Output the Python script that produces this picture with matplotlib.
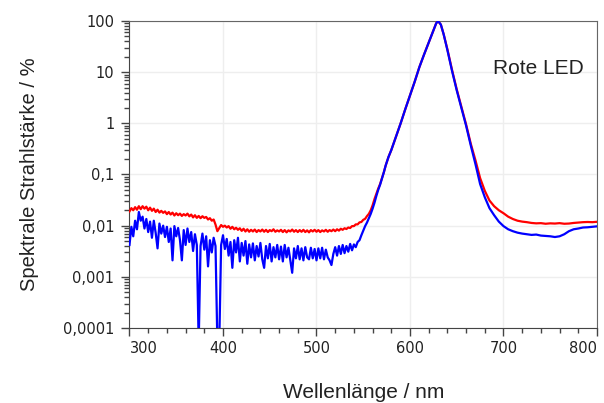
import matplotlib

matplotlib.use("Agg")
import matplotlib.pyplot as plt
import numpy as np
from matplotlib.ticker import FixedLocator, FuncFormatter, LogLocator, MultipleLocator

# noisy part of both spectra, sampled every 2 nm from 300 to 560 nm
wl_noise = np.arange(300, 562, 2)

red_noise = [
    0.019, 0.022, 0.020, 0.023, 0.0205, 0.024, 0.021, 0.024, 0.0215, 0.0235,
    0.020, 0.0225, 0.0195, 0.0215, 0.0185, 0.0205, 0.018, 0.0195, 0.0178, 0.019,
    0.0168, 0.0185, 0.0165, 0.018, 0.0158, 0.0175, 0.016, 0.0172, 0.0155, 0.0168,
    0.0158, 0.0172, 0.0152, 0.0165, 0.0145, 0.016, 0.0142, 0.0155, 0.0140, 0.0153,
    0.0142, 0.0148, 0.0132, 0.0140, 0.0125, 0.0132, 0.0105, 0.0078, 0.0090, 0.0103,
    0.0095, 0.0100, 0.0092, 0.0098, 0.0087, 0.0095, 0.0085, 0.0091, 0.0083, 0.0089,
    0.0079, 0.0087, 0.0077, 0.0085, 0.0076, 0.0083, 0.0077, 0.0084, 0.0075, 0.0082,
    0.0077, 0.0084, 0.0076, 0.0083, 0.0075, 0.0082, 0.0078, 0.0085, 0.0076, 0.0081,
    0.0077, 0.0083, 0.0075, 0.0082, 0.0074, 0.0081, 0.0077, 0.0084, 0.0076, 0.0082,
    0.0075, 0.0082, 0.0076, 0.0083, 0.0075, 0.0081, 0.0074, 0.0082, 0.0077, 0.0083,
    0.0076, 0.0082, 0.0075, 0.0081, 0.0077, 0.0083, 0.0076, 0.0082, 0.0078, 0.0084,
    0.0078, 0.0085, 0.0080, 0.0087, 0.0083, 0.0089, 0.0086, 0.0092, 0.0090, 0.0098,
    0.0098, 0.0106, 0.0106, 0.0116, 0.0118, 0.0130, 0.0136, 0.0154, 0.0170, 0.0200,
    0.0250,
]

blue_noise = [
    0.0042, 0.0095, 0.0062, 0.0125, 0.0085, 0.0185, 0.0125, 0.0150, 0.0088, 0.0135,
    0.0075, 0.0120, 0.0058, 0.0125, 0.0072, 0.0036, 0.0110, 0.0070, 0.0100, 0.0060,
    0.0095, 0.0048, 0.0088, 0.0021, 0.0098, 0.0062, 0.0090, 0.0052, 0.0021, 0.0082,
    0.0042, 0.0088, 0.0048, 0.0075, 0.0032, 0.0068, 0.0042, 0.00005, 0.0040, 0.0070,
    0.0034, 0.0062, 0.0016, 0.0052, 0.0030, 0.0058, 0.0040, 0.00005, 0.00005, 0.0042,
    0.0065, 0.0035, 0.0055, 0.0026, 0.0048, 0.0015, 0.0052, 0.0030, 0.0058, 0.0020,
    0.0046, 0.0026, 0.0050, 0.0018, 0.0043, 0.0024, 0.0045, 0.0021, 0.0040, 0.0025,
    0.0046, 0.0022, 0.0015, 0.0040, 0.0023, 0.0044, 0.0020, 0.0038, 0.0024, 0.0042,
    0.0022, 0.0039, 0.0020, 0.0042, 0.0024, 0.0037, 0.0021, 0.0012, 0.0036, 0.0023,
    0.0040, 0.0022, 0.0036, 0.0021, 0.0038, 0.0024, 0.0022, 0.0037, 0.0023, 0.0035,
    0.0021, 0.0036, 0.0023, 0.0037, 0.0022, 0.0034, 0.0024, 0.0021, 0.0017, 0.0028,
    0.0038, 0.0026, 0.0040, 0.0028, 0.0042, 0.0029, 0.0040, 0.0031, 0.0044, 0.0033,
    0.0043, 0.0038, 0.0048, 0.0052, 0.0065, 0.0080, 0.0098, 0.0115, 0.0140, 0.0170,
    0.0215,
]

# emission peak and long-wavelength tail
wl_peak = [562, 564, 566, 568, 570, 572, 574, 577, 580, 585, 590, 595, 600, 605,
           610, 615, 620, 625, 628, 630, 633, 636, 640, 645, 650, 655, 660, 665,
           670, 675, 680, 685, 690, 695, 700, 705, 710, 715, 720, 725, 730, 735,
           740, 745, 750, 755, 760, 765, 770, 775, 780, 785, 790, 795, 800]

red_peak = [0.033, 0.042, 0.053, 0.065, 0.085, 0.11, 0.15, 0.22, 0.3, 0.55,
            1.0, 1.9, 3.5, 6.5, 12.5, 22, 38, 65, 90, 100, 85, 55, 28, 11,
            4.6, 2.1, 0.95, 0.4, 0.19, 0.085, 0.048, 0.031, 0.024, 0.020,
            0.0175, 0.015, 0.0135, 0.0125, 0.012, 0.0117, 0.0113, 0.0111,
            0.0112, 0.0109, 0.0111, 0.0110, 0.0112, 0.0109, 0.0110, 0.0113,
            0.0115, 0.0117, 0.0118, 0.0117, 0.0119]

blue_peak = [0.028, 0.038, 0.05, 0.063, 0.083, 0.11, 0.15, 0.22, 0.3, 0.55,
             1.0, 1.9, 3.5, 6.5, 12.5, 22, 38, 65, 90, 100, 85, 55, 27, 10.5,
             4.4, 2.0, 0.9, 0.37, 0.16, 0.065, 0.036, 0.022, 0.016, 0.012,
             0.0098, 0.0085, 0.0078, 0.0073, 0.0070, 0.0068, 0.0066, 0.0067,
             0.0064, 0.0063, 0.0062, 0.0060, 0.0062, 0.0068, 0.0078, 0.0085,
             0.0088, 0.0092, 0.0093, 0.0095, 0.0097]

wl = np.concatenate([wl_noise, wl_peak])
red = np.concatenate([red_noise, red_peak])
blue = np.concatenate([blue_noise, blue_peak])

y_ticks = [0.0001, 0.001, 0.01, 0.1, 1, 10, 100]
y_tick_labels = ["0,0001", "0,001", "0,01", "0,1", "1", "10", "100"]
x_ticks = [300, 400, 500, 600, 700, 800]

plt.rcParams["font.family"] = ["Liberation Sans", "DejaVu Sans"]

fig = plt.figure(figsize=(6.04, 4.03), dpi=100)
ax = fig.add_axes([0.2144, 0.1861, 0.7740, 0.7618])

ax.plot(wl, red, color="#ff0000", lw=1.6, zorder=3)
ax.plot(wl, blue, color="#0000ff", lw=1.6, zorder=4)

ax.set_yscale("log")
ax.set_xlim(300, 800)
ax.set_ylim(0.0001, 100)

ax.yaxis.set_major_locator(FixedLocator(y_ticks))
ax.yaxis.set_major_formatter(FuncFormatter(lambda v, p: y_tick_labels[y_ticks.index(v)] if v in y_ticks else ""))
ax.yaxis.set_minor_locator(LogLocator(base=10, subs=np.arange(2, 10)))
ax.yaxis.set_minor_formatter(FuncFormatter(lambda v, p: ""))
ax.xaxis.set_major_locator(FixedLocator(x_ticks))
ax.xaxis.set_minor_locator(MultipleLocator(20))

ax.grid(True, which="major", color="#eeeeee", lw=1.0, zorder=0)
ax.set_axisbelow(True)

for side in ["left", "bottom"]:
    ax.spines[side].set_color("#444444")
for side in ["top", "right"]:
    ax.spines[side].set_color("#666666")

ax.tick_params(which="major", length=6, width=1, color="#444444", labelcolor="#222222")
ax.tick_params(which="minor", length=3.5, width=1, color="#444444")
ax.tick_params(axis="y", labelsize=10.5, pad=5)
ax.tick_params(axis="x", labelsize=10.5, pad=3)
for lbl in ax.get_yticklabels():
    lbl.set_family("DejaVu Sans")
xlabels = ax.get_xticklabels()
for lbl in xlabels:
    lbl.set_family("DejaVu Sans")
xlabels[0].set_horizontalalignment("left")
xlabels[-1].set_horizontalalignment("right")

ax.set_ylabel("Spektrale Strahlstärke / %", fontsize=14.5, color="#222222", labelpad=17)
ax.set_xlabel("Wellenlänge / nm", fontsize=15, color="#222222", labelpad=20)

ax.text(0.777, 0.827, "Rote LED", transform=ax.transAxes, fontsize=15,
        color="#222222", va="baseline", ha="left")

fig.savefig("out.png", dpi=100)
